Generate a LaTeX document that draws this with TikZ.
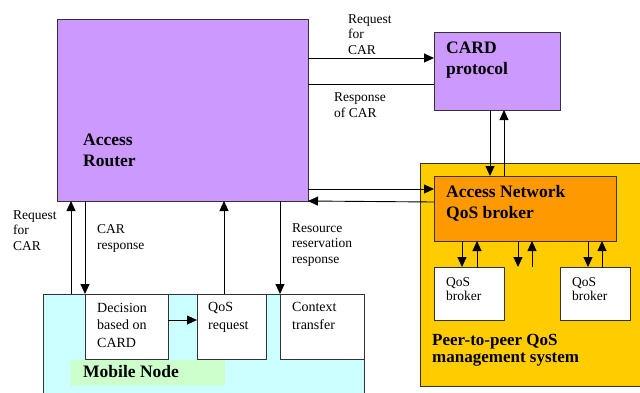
\documentclass[tikz,border=0pt]{standalone}
\usepackage{fontspec}
\setmainfont{LiberationSerif}[Extension=.ttf, UprightFont=*-Regular, BoldFont=*-Bold, ItalicFont=*-Italic, BoldItalicFont=*-BoldItalic]
\usetikzlibrary{arrows.meta}
\definecolor{arpurple}{HTML}{CC99FF}
\definecolor{pyellow}{HTML}{FFCC00}
\definecolor{borange}{HTML}{FF9900}
\definecolor{mncyan}{HTML}{CCFFFF}
\definecolor{mngreen}{HTML}{CCFFCC}
\definecolor{edge}{HTML}{333333}
\tikzset{
  box/.style={draw=edge, line width=1pt, anchor=north west, inner sep=0pt, outer sep=0pt},
  arr/.style={draw=black, line width=0.9pt, -{Triangle[length=10pt,width=9pt]}},
  ln/.style={draw=black, line width=0.9pt},
  small/.style={anchor=base west, align=left, inner sep=0pt, font=\rmfamily\fontsize{13.5}{15.5}\selectfont},
  boxtxt/.style={anchor=base west, align=left, inner sep=0pt, font=\rmfamily\fontsize{14}{17.5}\selectfont},
  big/.style={anchor=base west, align=left, inner sep=0pt, font=\rmfamily\fontsize{17.5}{20.5}\selectfont\bfseries},
}
\begin{document}
\begin{tikzpicture}[x=1pt,y=-1pt]
\useasboundingbox (0,0) rectangle (640,392);
\clip (0,0) rectangle (640,392);
% boxes
\node[box, fill=arpurple, minimum width=251pt, minimum height=182pt] (AR) at (57,19) {};
\node[box, fill=arpurple, minimum width=126pt, minimum height=78pt] (CARD) at (434,32) {};
\node[box, fill=pyellow, minimum width=230pt, minimum height=223pt] (P2P) at (420,163) {};
\node[box, fill=borange, minimum width=182pt, minimum height=65pt] (ANB) at (434,176) {};
\node[box, fill=white, minimum width=70pt, minimum height=53pt] (QB1) at (434,267) {};
\node[box, fill=white, minimum width=70pt, minimum height=53pt] (QB2) at (560,267) {};
\node[box, fill=mncyan, minimum width=321pt, minimum height=120pt] (MN) at (43,294) {};
\node[anchor=north west, fill=mngreen, inner sep=0pt, minimum width=155pt, minimum height=26pt] (MNL) at (70,360) {};
\node[box, fill=white, minimum width=83pt, minimum height=65pt] (DEC) at (85,294) {};
\node[box, fill=white, minimum width=69pt, minimum height=65pt] (QR) at (197,294) {};
\node[box, fill=white, minimum width=84pt, minimum height=65pt] (CT) at (280,294) {};
% texts (anchor = baseline of last line)
\node[big] (tAR) at (83,166) {Access\\Router};
\node[big] (tCARD) at (446,74) {CARD\\protocol};
\node[big] (tANB) at (446,218) {Access Network\\QoS broker};
\node[big, font=\rmfamily\fontsize{17}{17}\selectfont\bfseries] (tP2P) at (432,362) {Peer-to-peer QoS\\management system};
\node[big] (tMN) at (83,377) {Mobile Node};
\node[small, font=\rmfamily\fontsize{13.5}{14}\selectfont] (tQB1) at (446,300) {QoS\\broker};
\node[small, font=\rmfamily\fontsize{13.5}{14}\selectfont] (tQB2) at (572,300) {QoS\\broker};
\node[boxtxt] (tDEC) at (97,347) {Decision\\based on\\CARD};
\node[boxtxt] (tQR) at (208,329) {QoS\\request};
\node[boxtxt] (tCT) at (292,329) {Context\\transfer};
\node[small] (l1) at (348,54) {Request\\for\\CAR};
\node[small] (l2) at (334,117) {Response\\of CAR};
\node[small] (l3) at (13,250) {Request\\for\\CAR};
\node[small] (l4) at (97,249) {CAR\\response};
\node[small] (l5) at (292,263) {Resource\\reservation\\response};
% connectors AR <-> CARD
\draw[arr] (AR.east |- 0,58) -- (CARD.west |- 0,58);
\draw[ln] (CARD.west |- 0,84) -- (AR.east |- 0,84);
% CARD <-> ANB
\draw[arr] (CARD.south -| 490,0) -- (ANB.north -| 490,0);
\draw[arr] (ANB.north -| 504,0) -- (CARD.south -| 504,0);
% AR <-> ANB
\draw[arr] (AR.east |- 0,189) -- (ANB.west |- 0,189);
\draw[arr] (ANB.west |- 0,202) -- (AR.south east);
% ANB <-> QoS brokers
\draw[arr] (ANB.south -| 462,0) -- (QB1.north -| 462,0);
\draw[arr] (QB1.north -| 477,0) -- (ANB.south -| 477,0);
\coordinate (m1) at (518,267);
\coordinate (m2) at (532,267);
\draw[arr] (ANB.south -| m1) -- (m1);
\draw[arr] (m2) -- (ANB.south -| m2);
\draw[arr] (ANB.south -| 588,0) -- (QB2.north -| 588,0);
\draw[arr] (QB2.north -| 602,0) -- (ANB.south -| 602,0);
% AR <-> Mobile node
\draw[arr] (MN.north -| 71,0) -- (AR.south -| 71,0);
\draw[arr] (AR.south -| DEC.north west) -- (DEC.north west);
\draw[arr] (QR.north -| 224,0) -- (AR.south -| 224,0);
\draw[arr] (AR.south -| CT.north west) -- (CT.north west);
\draw[arr] (DEC.east |- 0,320) -- (QR.west |- 0,320);
\end{tikzpicture}
\end{document}
